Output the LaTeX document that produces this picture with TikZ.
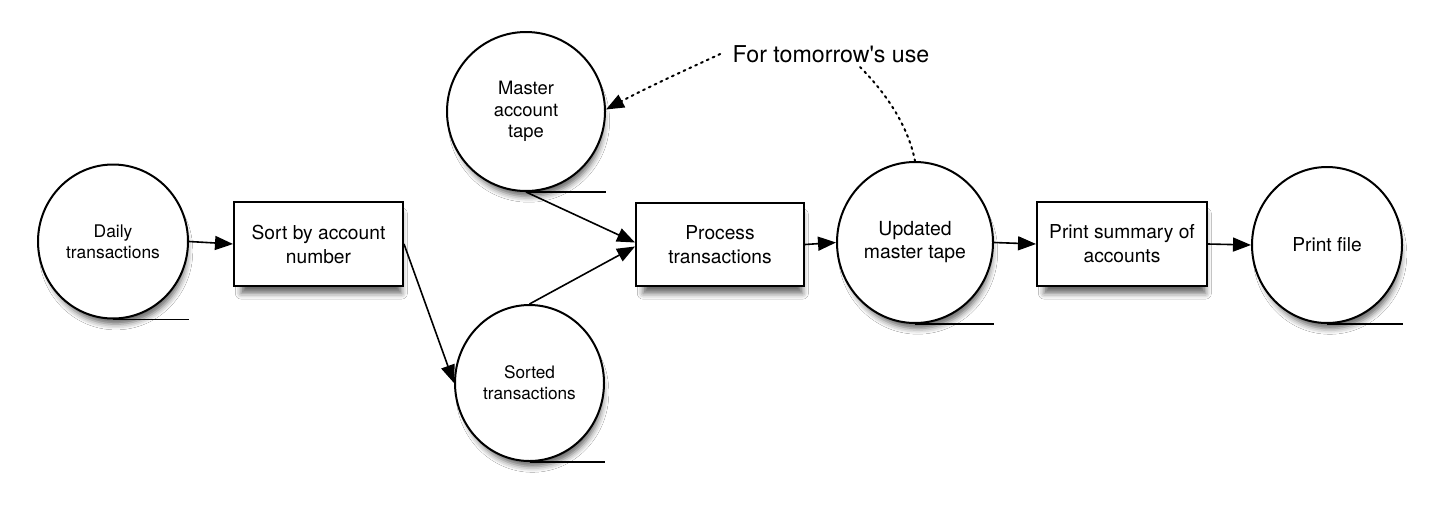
\documentclass[tikz,border=0pt]{standalone}
\usepackage{fontspec}
\setmainfont{TeX Gyre Heros}
\usetikzlibrary{arrows.meta,shapes.geometric,shadows.blur}
\tikzset{
  shd/.style={blur shadow={shadow xshift=1.5pt,shadow yshift=-5pt,shadow scale=0.95,shadow blur radius=3pt,shadow opacity=60}},
  tape/.style={ellipse,draw,line width=1pt,fill=white,shd,align=center,inner sep=0pt},
  proc/.style={rectangle,draw,line width=1pt,fill=white,shd,align=center,inner sep=0pt,
    minimum width=84.5pt,minimum height=42pt,font=\fontsize{9.6}{12}\selectfont},
  tail/.style={line width=0.9pt},
  tip/.style={-{Triangle[length=9pt,width=7pt]}},
  arr/.style={line width=0.8pt,tip},
  dotarr/.style={line width=1pt,dash pattern=on 1pt off 2.2pt,line cap=round},
}
\begin{document}
\begin{tikzpicture}[x=0.5pt,y=-0.5pt]
\useasboundingbox[fill=white] (0,0) rectangle (1440,509);
% tapes
\node[tape,minimum width=75pt,minimum height=77pt,font=\fontsize{8.7}{10.5}\selectfont] (daily) at (113,241.5) {Daily\\transactions};
\node[tape,minimum width=79pt,minimum height=79.5pt,font=\fontsize{9.2}{10.8}\selectfont] (master) at (526,111.5) {Master\\account\\tape};
\node[tape,minimum width=74.5pt,minimum height=78pt,font=\fontsize{8.6}{10.5}\selectfont] (sorted) at (529.5,383) {Sorted\\transactions};
\node[tape,minimum width=78pt,minimum height=80.5pt,font=\fontsize{9.7}{11.5}\selectfont] (updated) at (915,242.5) {Updated\\master tape};
\node[tape,minimum width=75pt,minimum height=78pt,font=\fontsize{9.6}{11.5}\selectfont] (printfile) at (1327,245) {Print file};
% process boxes
\node[proc] (sort) at (318.5,244) {Sort by account\\number};
\node[proc,minimum width=84pt,minimum height=41.5pt] (process) at (720,244.5) {Process\\transactions};
\node[proc,minimum width=85pt] (summary) at (1122,244) {Print summary of\\accounts};
% note
\node[font=\fontsize{11.6}{14}\selectfont,inner sep=1pt] (note) at (831,54) {For tomorrow\textquotesingle s use};
% tails
\foreach \n in {daily,master,sorted,updated,printfile}
  \draw[tail] (\n.south) -- (\n.south -| \n.east);
% arrows
\draw[arr] (daily.east) -- (sort.west);
\draw[arr] (sort.east) -- (sorted.west);
\draw[arr] (master.south) -- ([yshift=1pt]process.west);
\draw[arr] (sorted.north) -- ([yshift=-1pt]process.west);
\draw[arr] (process.east) -- (updated.west);
\draw[arr] (updated.east) -- (summary.west);
\draw[arr] (summary.east) -- (printfile.west);
% dotted
\draw[dotarr,tip] ([xshift=-5pt]note.west) .. controls (690,68) and (650,86) .. ([yshift=1pt]master.east);
\draw[dotarr] ([xshift=14.5pt,yshift=-1pt]note.south) .. controls (885,92) and (908,125) .. (updated.north);
\end{tikzpicture}
\end{document}
